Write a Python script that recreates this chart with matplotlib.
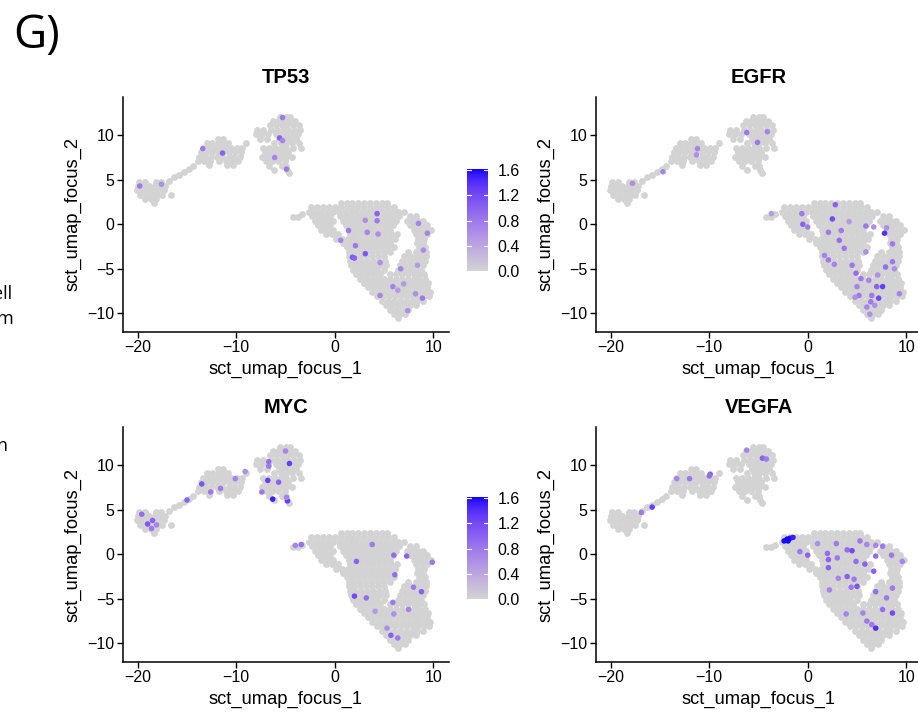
import numpy as np
import matplotlib.pyplot as plt
from matplotlib.colors import ListedColormap, Normalize
from matplotlib.cm import ScalarMappable

plt.rcParams['font.family'] = ['Liberation Sans', 'DejaVu Sans']

blob_left = [
    (4.8, [-19.9, -19.3, -18.2, -17.6]),
    (4.3, [-20.0, -19.5, -18.9, -18.3, -17.7, -17.2]),
    (3.8, [-20.1, -19.6, -19.0, -18.5, -17.9, -17.3]),
    (3.3, [-19.8, -19.2, -18.6, -18.0, -17.5, -16.6]),
    (2.8, [-19.3, -18.7, -18.1]),
    (2.4, [-18.4]),
    (4.9, [-16.8]),
    (5.3, [-16.3]),
    (5.5, [-15.8]),
    (5.9, [-15.3]),
    (6.2, [-14.8]),
    (6.5, [-14.4]),
]
blob_mid = [
    (9.6, [-11.9, -11.3]),
    (9.1, [-13.0, -12.5, -11.9, -11.3, -10.8, -9.0]),
    (8.6, [-13.4, -12.9, -12.3, -11.7, -11.1, -10.5, -9.9, -9.4]),
    (8.1, [-13.6, -13.1, -12.5, -11.9, -11.3, -10.7, -10.1, -9.5]),
    (7.6, [-13.8, -13.2, -12.6, -12.0, -11.4, -10.7, -10.2, -9.6]),
    (7.1, [-13.9, -13.3, -12.7, -11.8, -11.0, -10.4, -9.8]),
    (6.7, [-12.8, -10.9, -10.3]),
]
blob_top = [
    (12.1, [-5.6, -5.0, -4.5]),
    (11.6, [-6.3, -5.8, -5.2, -4.6, -4.0]),
    (11.1, [-6.6, -6.0, -5.4, -4.8, -4.2, -3.6]),
    (10.6, [-7.9, -7.3, -6.5, -5.9, -5.3, -4.7, -4.1, -3.5]),
    (10.1, [-8.0, -7.4, -6.8, -6.0, -5.4, -4.8, -4.2, -3.7]),
    (9.6, [-7.6, -6.9, -5.7, -5.1, -4.5, -3.9]),
    (9.1, [-6.2, -5.5, -4.9, -4.3, -3.6]),
    (8.6, [-7.3, -6.7, -6.1, -5.5, -4.9, -4.2, -3.4]),
    (8.1, [-7.1, -6.5, -5.9, -5.3, -4.7]),
    (7.6, [-7.4, -6.8, -6.2, -5.6, -5.0, -4.3]),
    (7.1, [-7.0, -6.4, -5.8, -5.1]),
    (6.6, [-6.7, -5.4, -4.9]),
    (6.1, [-6.2, -4.8]),
    (5.8, [-4.6]),
]
blob_big = [
    (1.1, [-3.3]),
    (0.8, [-4.2, -3.7]),
    (2.4, [0.6, 1.2, 1.8, 2.4, 3.0, 3.6, 4.2, 4.8, 5.3]),
    (1.9, [-2.4, -1.8, -1.2, -0.6, 0.0, 0.6, 1.2, 1.8, 2.4, 3.0, 3.6, 4.2, 4.8, 5.4, 6.0]),
    (1.4, [-2.6, -2.0, -1.4, -0.8, -0.2, 0.4, 1.0, 1.6, 2.2, 2.8, 3.4, 4.0, 4.6, 5.2, 5.8, 6.4, 7.0]),
    (0.9, [-2.3, -1.7, -1.1, -0.5, 0.5, 1.1, 1.7, 2.3, 2.9, 3.5, 4.1, 4.7, 5.3, 5.9, 6.5, 7.6, 8.2]),
    (0.4, [-2.0, -1.4, -0.8, -0.2, 0.8, 1.4, 2.0, 2.6, 3.2, 3.8, 4.4, 5.0, 5.6, 6.2, 7.3, 7.9, 8.5, 9.0]),
    (-0.1, [-1.7, -1.1, -0.5, 1.1, 1.7, 2.3, 2.9, 3.5, 4.1, 4.7, 5.3, 5.9, 7.6, 8.2, 8.8, 9.4]),
    (-0.6, [-1.4, -0.8, -0.2, 1.4, 2.0, 2.6, 3.2, 3.8, 4.4, 5.0, 5.6, 8.0, 8.6, 9.2, 9.8]),
    (-1.1, [-0.9, -0.3, 0.3, 1.5, 2.1, 2.7, 3.3, 3.9, 4.5, 5.1, 5.7, 6.3, 8.3, 8.9, 9.4]),
    (-1.6, [0.1, 0.7, 1.3, 1.9, 2.5, 3.1, 3.7, 4.3, 4.9, 5.5, 6.1, 8.5, 9.1]),
    (-2.1, [0.8, 1.4, 2.0, 2.6, 3.2, 3.8, 4.4, 5.0, 5.6, 8.4, 9.0]),
    (-2.6, [1.2, 1.8, 2.4, 3.0, 3.6, 4.2, 4.8, 5.4, 6.0, 8.6, 9.2]),
    (-3.1, [1.4, 2.0, 2.6, 3.2, 3.8, 4.4, 5.0, 5.6, 7.4, 8.2, 8.8, 9.3]),
    (-3.6, [1.4, 2.0, 2.6, 3.2, 3.8, 4.4, 5.0, 7.0, 7.6, 8.2, 8.8, 9.3]),
    (-4.1, [1.5, 2.1, 2.7, 3.3, 3.9, 4.5, 5.1, 6.8, 7.4, 8.0, 8.6, 9.2]),
    (-4.6, [1.6, 2.2, 2.8, 3.4, 4.0, 4.6, 5.2, 6.6, 7.2, 7.8, 8.4, 9.0]),
    (-5.1, [1.9, 2.5, 3.1, 3.7, 4.3, 5.0, 6.4, 7.0, 7.6, 8.2, 8.8]),
    (-5.6, [2.2, 2.8, 3.4, 4.0, 4.6, 5.6, 6.2, 6.8, 7.4, 8.0, 8.6, 9.1]),
    (-6.1, [2.6, 3.2, 3.8, 4.4, 5.0, 5.6, 6.2, 6.8, 7.4, 8.0, 8.6, 9.2]),
    (-6.6, [3.0, 3.6, 4.2, 4.8, 5.4, 6.0, 6.6, 7.2, 7.8, 8.4, 9.0, 9.5]),
    (-7.1, [3.4, 4.0, 4.6, 5.2, 5.8, 6.4, 7.0, 7.6, 8.2, 8.8, 9.4]),
    (-7.6, [3.8, 4.4, 5.0, 5.6, 6.2, 6.8, 7.4, 8.0, 8.6, 9.2, 9.7]),
    (-8.1, [4.3, 4.9, 5.5, 6.1, 6.7, 7.3, 7.9, 8.5, 9.1, 9.6]),
    (-8.6, [4.8, 5.4, 6.0, 6.6, 7.2, 7.8, 8.4, 9.0]),
    (-9.1, [5.2, 5.8, 6.4, 7.0, 7.6, 8.2]),
    (-9.6, [5.6, 6.2, 6.8, 7.4]),
    (-10.1, [6.0, 6.6, 7.1]),
    (-10.5, [6.4]),
]

# expressing cells per gene: (x, y, expression)
tp53_cells = [
    (-19.8, 4.3, 0.8), (-17.6, 4.5, 0.6), (-13.4, 8.5, 0.8), (-11.4, 8.0, 1.0),
    (-5.3, 12.0, 0.8), (-5.6, 9.7, 1.0), (-5.3, 9.4, 0.7), (-6.1, 7.5, 0.7),
    (-4.9, 6.2, 0.8), (4.3, 1.2, 1.0), (3.1, 0.45, 0.6), (4.3, 0.4, 0.8),
    (1.4, -0.7, 0.8), (3.3, -0.9, 0.7), (4.4, -1.1, 0.6), (8.5, 0.1, 0.7),
    (9.4, -1.0, 0.7), (0.6, -1.8, 0.7), (2.1, -2.4, 0.8), (1.8, -3.7, 1.1),
    (2.0, -3.8, 1.0), (3.1, -3.3, 1.1), (4.6, -4.3, 0.6), (6.7, -5.0, 0.7),
    (8.4, -4.6, 0.5), (9.0, -2.9, 0.6), (5.9, -7.0, 0.7), (7.0, -6.7, 0.5),
    (4.6, -8.0, 0.7), (8.2, -7.8, 0.6), (8.9, -8.3, 0.8), (7.4, -9.7, 0.6),
    (6.4, -7.4, 0.5),
]
egfr_cells = [
    (-6.2, 10.3, 0.8), (-4.1, 10.4, 0.7), (-5.1, 9.2, 0.8), (-11.2, 8.5, 0.7),
    (-11.3, 7.8, 0.6), (-14.7, 5.9, 0.7), (-17.8, 4.6, 0.6), (-3.7, 1.2, 0.5),
    (2.8, 2.2, 1.0), (-0.6, 1.2, 0.8), (-0.5, 0.0, 1.0), (0.0, -0.3, 0.8),
    (2.1, -0.9, 0.8), (2.5, 0.6, 1.2), (3.4, -0.7, 0.8), (4.2, 0.3, 0.5),
    (5.9, -0.2, 0.8), (6.7, -0.3, 0.6), (8.0, -0.4, 0.6), (7.8, -1.0, 1.4),
    (8.6, -2.2, 0.8), (3.2, -1.8, 0.9), (3.7, -2.7, 0.8), (1.7, -3.5, 0.7),
    (2.1, -4.0, 0.8), (2.7, -4.5, 0.7), (4.5, -4.6, 0.8), (5.9, -3.1, 0.6),
    (8.6, -4.2, 0.8), (7.9, -4.8, 0.9), (8.8, -5.0, 0.6), (4.9, -5.5, 0.9),
    (5.4, -6.1, 0.8), (6.2, -6.3, 0.7), (7.1, -5.7, 0.6), (5.0, -7.0, 0.7),
    (7.6, -7.0, 1.3), (7.0, -7.0, 1.0), (5.2, -8.0, 0.8), (6.5, -8.0, 0.8),
    (7.2, -8.3, 1.2), (6.4, -8.7, 0.8), (9.3, -7.8, 0.7), (6.0, -9.3, 0.7),
    (6.8, -9.1, 0.6), (6.3, -10.1, 0.6), (4.8, -8.2, 0.6),
]
myc_cells = [
    (-19.6, 4.5, 0.9), (-19.0, 3.4, 1.1), (-18.5, 3.8, 1.0), (-18.6, 2.9, 0.8),
    (-18.1, 3.3, 0.7), (-15.0, 6.1, 1.0), (-13.5, 7.9, 1.1), (-12.6, 7.0, 0.8),
    (-11.6, 7.4, 0.8), (-10.1, 8.5, 0.7), (-9.1, 9.3, 0.6), (-6.7, 10.4, 0.9),
    (-6.7, 9.9, 0.8), (-5.0, 11.6, 0.7), (-4.6, 10.2, 1.3), (-6.8, 8.3, 1.3),
    (-5.7, 8.1, 1.0), (-7.4, 7.0, 0.8), (-6.3, 6.2, 1.5), (-4.8, 6.0, 1.3),
    (-4.9, 6.4, 0.7), (-4.0, 1.0, 0.7), (-3.4, 1.1, 0.9), (3.8, 1.1, 0.8),
    (2.2, -0.8, 1.0), (6.0, -0.1, 0.9), (7.3, -0.2, 1.0), (9.9, -0.9, 0.8),
    (6.1, -2.3, 0.9), (8.0, -3.7, 0.8), (8.8, -4.2, 1.0), (2.0, -4.7, 1.2),
    (3.2, -4.9, 0.9), (5.9, -5.4, 0.8), (7.5, -6.2, 0.7), (6.0, -6.7, 0.6),
    (5.3, -8.3, 0.6), (5.7, -9.1, 1.0), (6.4, -9.4, 0.8), (4.1, -6.4, 0.5),
]
vegfa_cells = [
    (-6.2, 11.7, 0.7), (-4.6, 10.8, 1.0), (-4.2, 10.7, 0.8), (-13.3, 8.5, 0.7),
    (-12.0, 8.5, 0.8), (-9.9, 9.0, 1.0), (-10.0, 8.8, 0.9), (-15.8, 5.3, 1.3),
    (-16.9, 4.7, 0.8), (-2.4, 1.5, 1.6), (-2.1, 1.7, 1.6), (-1.8, 1.8, 1.6),
    (-1.5, 1.9, 1.5), (-2.0, 1.5, 1.6), (0.0, -0.1, 1.0), (-0.8, 0.3, 0.8),
    (1.0, 1.2, 0.6), (2.0, 0.1, 0.9), (2.1, -0.6, 1.0), (3.0, -0.4, 0.8),
    (2.1, -1.5, 1.0), (2.9, 1.2, 0.8), (4.0, 0.5, 0.9), (4.5, 0.4, 1.2),
    (4.9, -0.8, 0.9), (5.8, -1.1, 1.0), (5.3, 1.5, 0.8), (6.0, 1.1, 0.7),
    (6.9, 1.0, 0.7), (7.6, 0.9, 0.8), (6.9, -0.2, 0.9), (8.5, -0.1, 0.8),
    (9.6, -0.8, 0.7), (6.7, -1.9, 1.0), (4.0, -2.5, 1.0), (4.7, -2.8, 0.8),
    (3.1, -2.7, 0.7), (5.0, -3.6, 1.1), (4.4, -3.7, 0.8), (6.9, -4.2, 0.9),
    (8.0, -4.9, 0.8), (8.6, -3.8, 0.8), (2.2, -4.0, 0.7), (3.9, -6.7, 0.7),
    (5.6, -6.6, 0.7), (7.6, -6.2, 0.9), (8.6, -6.6, 1.2), (6.5, -7.9, 0.8),
    (6.9, -8.3, 1.4), (6.0, -7.5, 0.8),
]

genes = ['TP53', 'EGFR', 'MYC', 'VEGFA']
expression = {'TP53': tp53_cells, 'EGFR': egfr_cells, 'MYC': myc_cells, 'VEGFA': vegfa_cells}
cbar_ticks = [0.0, 0.4, 0.8, 1.2, 1.6]

cell_x, cell_y = [], []
for rows in (blob_left, blob_mid, blob_top, blob_big):
    for yv, xs in rows:
        cell_x += xs
        cell_y += [yv] * len(xs)


# lightgrey -> blue, blended in Lab space like ggplot does
def srgb_to_lab(rgb):
    c = np.asarray(rgb, float)
    lin = np.where(c <= 0.04045, c / 12.92, ((c + 0.055) / 1.055) ** 2.4)
    m = np.array([[0.4124, 0.3576, 0.1805], [0.2126, 0.7152, 0.0722], [0.0193, 0.1192, 0.9505]])
    xyz = m @ lin / np.array([0.95047, 1.0, 1.08883])
    f = np.where(xyz > 0.008856, np.cbrt(xyz), 7.787 * xyz + 16 / 116)
    return np.array([116 * f[1] - 16, 500 * (f[0] - f[1]), 200 * (f[1] - f[2])])


def lab_to_srgb(lab):
    L, a, b = lab
    fy = (L + 16) / 116
    f = np.array([fy + a / 500, fy, fy - b / 200])
    xyz = np.where(f ** 3 > 0.008856, f ** 3, (f - 16 / 116) / 7.787) * np.array([0.95047, 1.0, 1.08883])
    m = np.array([[3.2406, -1.5372, -0.4986], [-0.9689, 1.8758, 0.0415], [0.0557, -0.2040, 1.0570]])
    lin = m @ xyz
    c = np.where(lin <= 0.0031308, 12.92 * lin, 1.055 * np.clip(lin, 0, None) ** (1 / 2.4) - 0.055)
    return np.clip(c, 0, 1)


lab_lo = srgb_to_lab([211 / 255, 211 / 255, 211 / 255])
lab_hi = srgb_to_lab([0, 0, 1])
cmap = ListedColormap([lab_to_srgb(lab_lo + (lab_hi - lab_lo) * t) for t in np.linspace(0, 1, 256)])
norm = Normalize(vmin=0, vmax=1.62)

FW, FH = 918, 712
fig = plt.figure(figsize=(FW / 100, FH / 100), dpi=100)

# panel placement in pixels (left, top)
panel_pos = {'TP53': (123, 97), 'EGFR': (596, 97), 'MYC': (123, 427), 'VEGFA': (596, 427)}
AW, AH = 326, 235

for gene in genes:
    l, t = panel_pos[gene]
    ax = fig.add_axes([l / FW, 1 - (t + AH) / FH, AW / FW, AH / FH])
    ax.scatter(cell_x, cell_y, s=24, c='#D3D3D3', linewidths=0)
    ex = np.array(expression[gene])
    ax.scatter(ex[:, 0], ex[:, 1], c=ex[:, 2], cmap=cmap, norm=norm, s=16, linewidths=0)
    ax.set_xlim(-21.5, 11.6)
    ax.set_ylim(-12.1, 14.3)
    ax.set_xticks([-20, -10, 0, 10])
    ax.set_yticks([-10, -5, 0, 5, 10])
    for side in ('top', 'right'):
        ax.spines[side].set_visible(False)
    for side in ('left', 'bottom'):
        ax.spines[side].set_linewidth(1.1)
    ax.tick_params(length=4, width=1.0, labelsize=11.5, colors='black', pad=2)
    ax.set_title(gene, fontsize=14.5, fontweight='bold', pad=10)
    ax.set_xlabel('sct_umap_focus_1', fontsize=13.2, labelpad=4)
    ax.set_ylabel('sct_umap_focus_2', fontsize=13.2, labelpad=4)

# colour legends between the columns
for top in (169, 497):
    cax = fig.add_axes([467 / FW, 1 - (top + 102) / FH, 21 / FW, 102 / FH])
    cb = fig.colorbar(ScalarMappable(norm=norm, cmap=cmap), cax=cax, ticks=cbar_ticks)
    cb.outline.set_visible(False)
    cb.ax.tick_params(length=0, labelsize=11.5, pad=7)
    cb.ax.set_yticklabels(['%.1f' % v for v in cbar_ticks])
    for v in cbar_ticks:
        cax.plot([0, 0.2], [v, v], color='white', lw=0.8, transform=cax.get_yaxis_transform())
        cax.plot([0.8, 1], [v, v], color='white', lw=0.8, transform=cax.get_yaxis_transform())

fig.text(13 / FW, 1 - 48 / FH, 'G)', fontsize=33, family=['Open Sans', 'DejaVu Sans'], va='baseline')
fig.text(12 / FW, 1 - 299 / FH, 'ell', fontsize=13, ha='right', va='baseline', family=['Open Sans', 'DejaVu Sans'])
fig.text(13 / FW, 1 - 324 / FH, 'm', fontsize=13, ha='right', va='baseline', family=['Open Sans', 'DejaVu Sans'])
fig.text(7 / FW, 1 - 451 / FH, 'n', fontsize=13, ha='right', va='baseline', family=['Open Sans', 'DejaVu Sans'])

fig.savefig('out.png', dpi=100)
